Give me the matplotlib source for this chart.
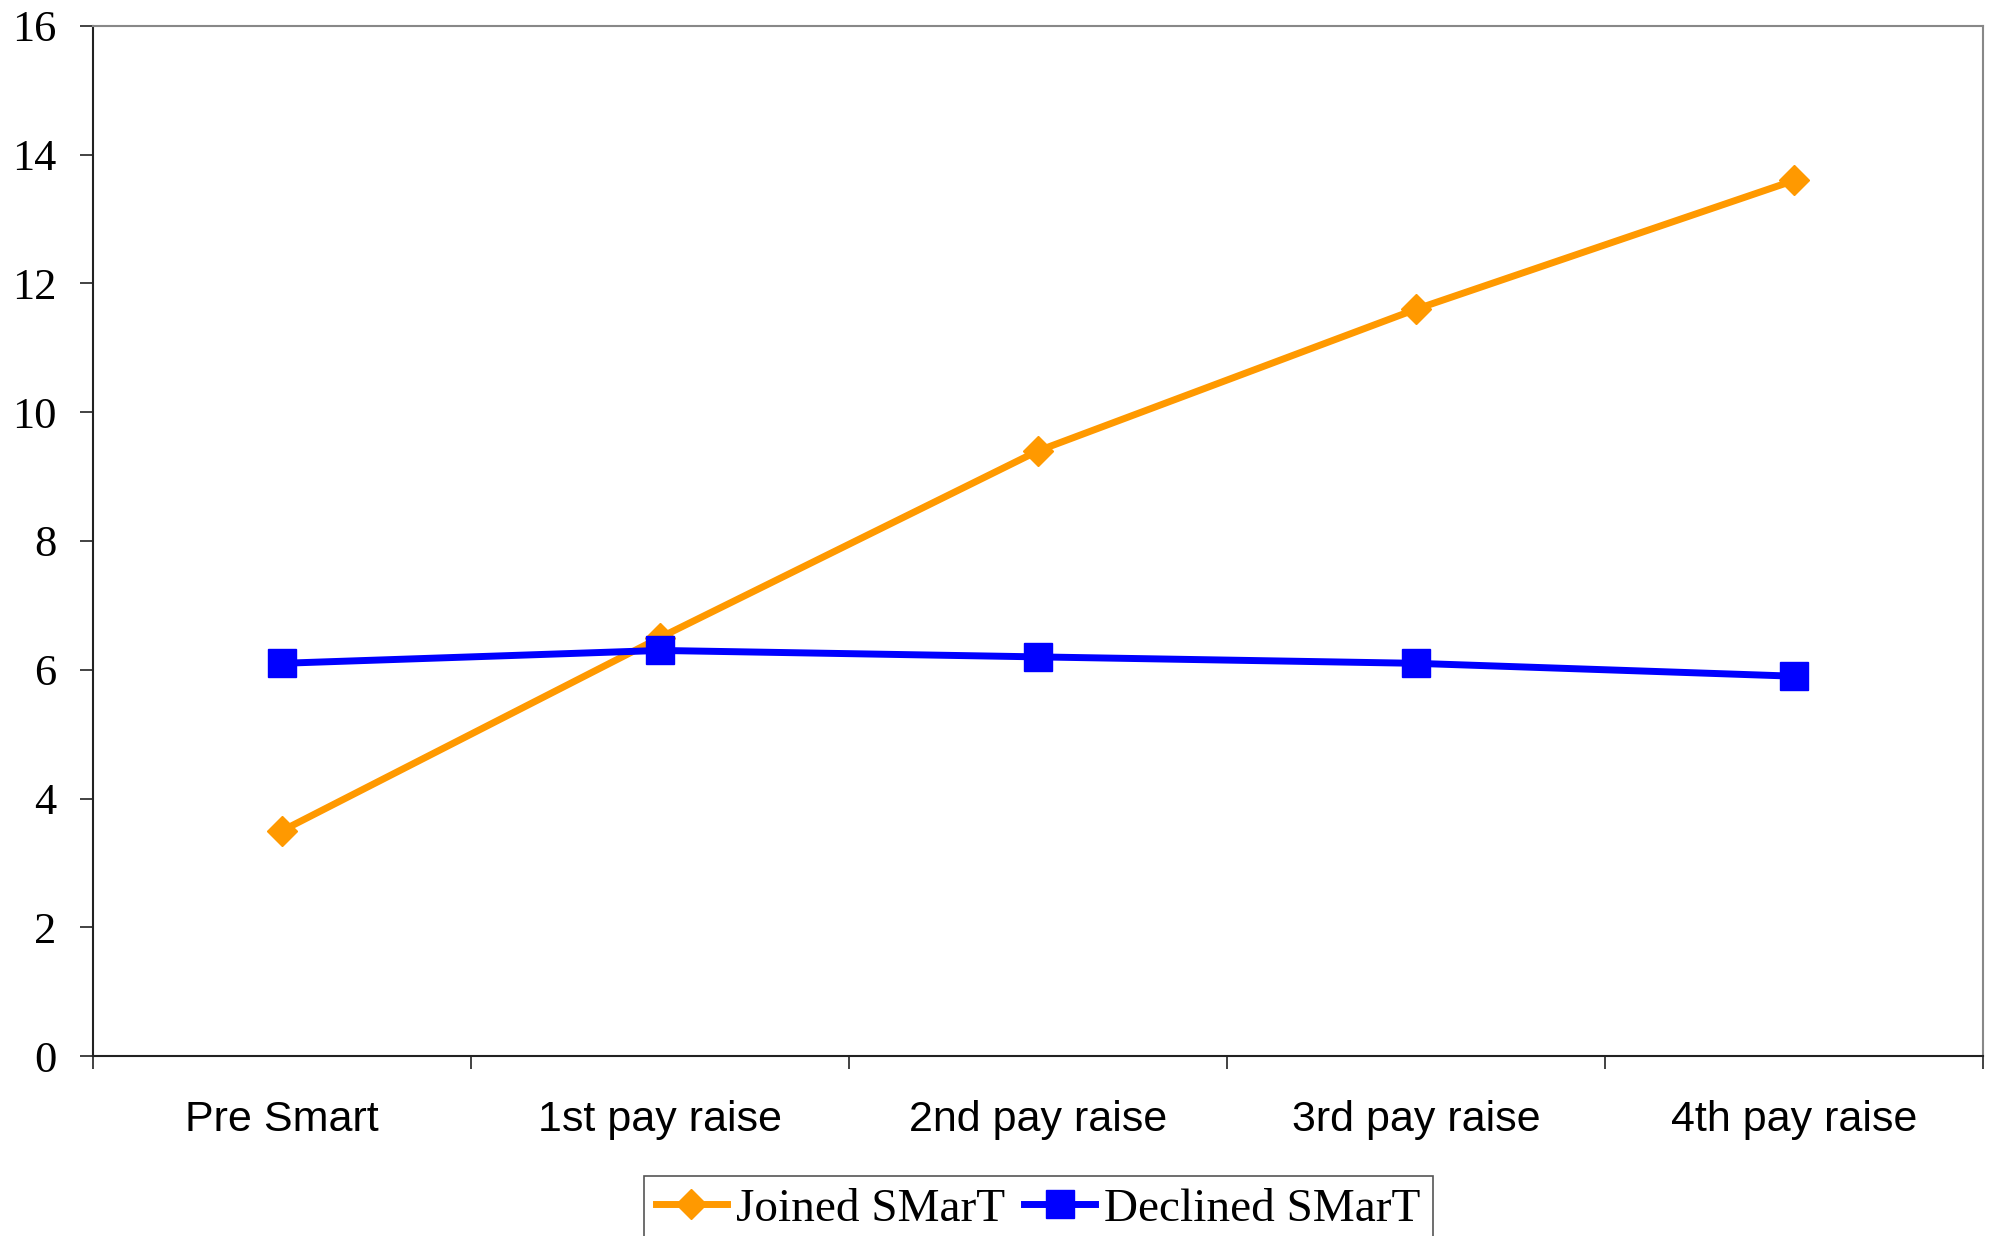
import numpy as np
import matplotlib
matplotlib.use('Agg')
import matplotlib.pyplot as plt

# categories and series
stages = ['Pre Smart', '1st pay raise', '2nd pay raise', '3rd pay raise', '4th pay raise']
joined = [3.5, 6.5, 9.4, 11.6, 13.6]
declined = [6.1, 6.3, 6.2, 6.1, 5.9]

fig = plt.figure(figsize=(19.93, 12.36), dpi=100)
ax = fig.add_axes([0.0467, 0.1456, 0.9483, 0.8334])

x = np.arange(len(stages))
ax.plot(x, joined, color='#FF9900', lw=5, marker='D', ms=15, label='Joined SMarT')
ax.plot(x, declined, color='#0000FF', lw=5, marker='s', ms=20, label='Declined SMarT')

ax.set_xlim(-0.5, len(stages) - 0.5)
ax.set_ylim(0, 16)
ax.set_yticks(np.arange(0, 17, 2))
ax.set_yticklabels([str(v) for v in range(0, 17, 2)], family='Liberation Serif', fontsize=32)
ax.tick_params(axis='y', length=9.5, width=1.2, pad=17, color='#222222')

ax.set_xticks(x)
ax.set_xticklabels(stages, family='Liberation Sans', fontsize=31)
ax.set_xticks(np.arange(-0.5, len(stages)), minor=True)
ax.tick_params(axis='x', which='major', length=0, pad=32)
ax.tick_params(axis='x', which='minor', length=9.5, width=1.2, color='#222222')

for side in ['left', 'bottom']:
    ax.spines[side].set_color('#222222')
    ax.spines[side].set_linewidth(1.5)
for side in ['top', 'right']:
    ax.spines[side].set_color('#888888')
    ax.spines[side].set_linewidth(1.5)

leg = fig.legend(loc='upper center', bbox_to_anchor=(0.521, 0.0485), ncol=2,
                 prop={'family': 'Liberation Serif', 'size': 34}, fancybox=False,
                 edgecolor='#555555', framealpha=1, handlelength=1.5, handletextpad=0.2,
                 columnspacing=0.4, borderpad=0.25, borderaxespad=0)
leg.get_frame().set_linewidth(1.2)

fig.savefig('out.png', dpi=100)
